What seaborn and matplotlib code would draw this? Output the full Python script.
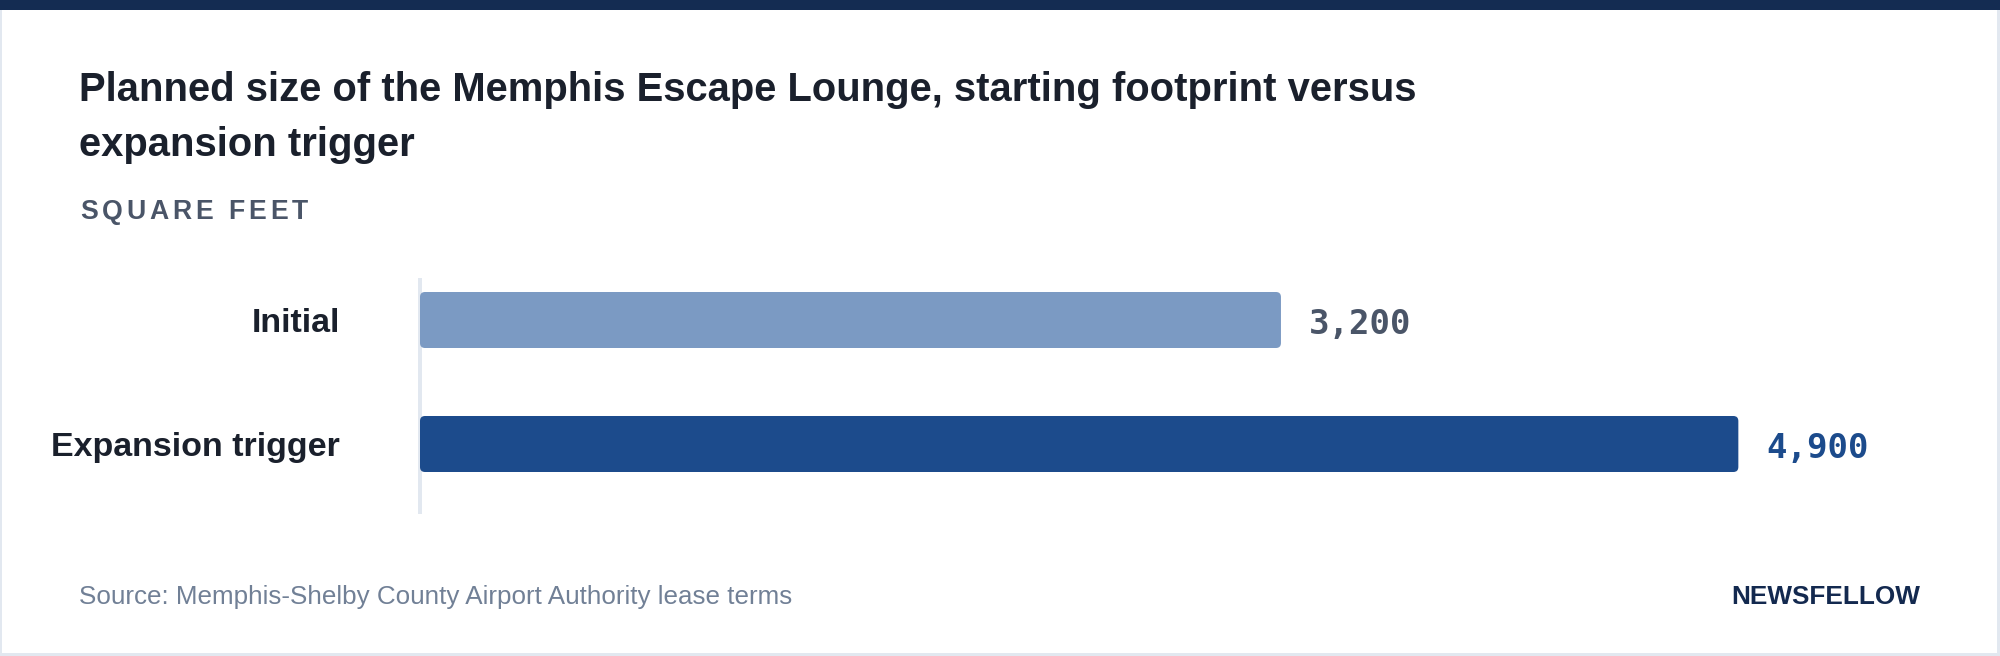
import numpy as np
import pandas as pd
import seaborn as sns
import matplotlib
matplotlib.use("Agg")
import matplotlib.pyplot as plt
from matplotlib.patches import FancyBboxPatch, Rectangle
from matplotlib.font_manager import findfont, FontProperties
from matplotlib.ft2font import FT2Font

# ---------------- data ----------------
categories = ["Initial", "Expansion trigger"]
values = [3200, 4900]
bar_colors = ["#7b9ac3", "#1c4b8c"]
value_label_colors = ["#4a5568", "#1c4b8c"]
title_lines = ["Planned size of the Memphis Escape Lounge, starting footprint versus",
               "expansion trigger"]
unit_label = "SQUARE FEET"
source_text = "Source: Memphis-Shelby County Airport Authority lease terms"
brand_text = "NEWSFELLOW"

# ---------------- setup ----------------
W, H, DPI = 2000, 656, 100
sns.set_theme(style="white")
plt.rcParams["font.family"] = ["Liberation Sans", "DejaVu Sans"]

fig = plt.figure(figsize=(W / DPI, H / DPI), dpi=DPI, facecolor="white")


def fx(px):
    return px / W


def fy(px_from_top):
    return 1 - px_from_top / H


PT = 72 / DPI  # points per pixel

# ---------------- axes ----------------
ax_left, ax_right, ax_top, ax_bottom = 420, 1920, 280, 512
ax = fig.add_axes([fx(ax_left), fy(ax_bottom), (ax_right - ax_left) / W, (ax_bottom - ax_top) / H])
ax.set_facecolor("white")

px_per_unit = 0.26905
step_px = 124
bar_h_px = 56
first_center_px = 320

df = pd.DataFrame({"category": categories, "value": values})
sns.barplot(data=df, x="value", y="category", hue="category", palette=bar_colors,
            orient="h", width=bar_h_px / step_px, saturation=1, legend=False, ax=ax)

ax.set_xlim(0, (ax_right - ax_left) / px_per_unit)
ax.set_ylim((ax_bottom - first_center_px) / step_px, (ax_top - first_center_px) / step_px)

# rounded bars
r_px = 5
r_units = r_px / px_per_unit
aspect = (1 / step_px) / (1 / px_per_unit)
for p in list(ax.patches):
    x0, y0 = p.get_x(), p.get_y()
    w, h = p.get_width(), p.get_height()
    fc = p.get_facecolor()
    p.remove()
    fb = FancyBboxPatch((x0, y0), w, h,
                        boxstyle=f"round,pad=0,rounding_size={r_units}",
                        mutation_aspect=aspect, facecolor=fc, edgecolor="none",
                        linewidth=0, zorder=3)
    ax.add_patch(fb)

for s in ["top", "right", "bottom"]:
    ax.spines[s].set_visible(False)
ax.spines["left"].set_color("#e2e8f0")
ax.spines["left"].set_linewidth(4 * PT)
ax.spines["left"].set_zorder(1)

ax.set_xticks([])
ax.set_xlabel("")
ax.set_ylabel("")
ax.tick_params(axis="y", length=0, pad=80 * PT)
for lbl in ax.get_yticklabels():
    lbl.set_fontweight("bold")
    lbl.set_fontsize(24.5)
    lbl.set_color("#1a202c")
    lbl.set_fontfamily(["Liberation Sans", "DejaVu Sans"])

# value labels
for i, (v, c) in enumerate(zip(values, value_label_colors)):
    ax.annotate(f"{v:,}", xy=(v, i), xytext=(28 * PT, -14 * PT), textcoords="offset points",
                ha="left", va="baseline", fontfamily="DejaVu Sans Mono", fontweight="bold",
                fontsize=24.5, color=c, zorder=4)

# ---------------- text ----------------
fig.text(fx(79), fy(101), title_lines[0], fontsize=28.8, fontweight="bold", color="#1a202c", va="baseline")
fig.text(fx(79), fy(156), title_lines[1], fontsize=28.8, fontweight="bold", color="#1a202c", va="baseline")

# letter-spaced unit label
size_pt = 19.2
fp = FontProperties(family="Liberation Sans", weight="bold")
ft = FT2Font(findfont(fp))
ft.set_size(size_pt, DPI)
advs = [ft.load_char(ord(ch)).linearHoriAdvance / 65536 for ch in unit_label]
target_w = 228
spacing = (target_w - sum(advs)) / (len(unit_label) - 1)
xpos = 80
for ch, a in zip(unit_label, advs):
    fig.text(fx(xpos), fy(219), ch, fontsize=size_pt, fontweight="bold", color="#4a5568", va="baseline")
    xpos += a + spacing

fig.text(fx(79), fy(604), source_text, fontsize=18.7, color="#718096", va="baseline")
fig.text(fx(1920), fy(604), brand_text, fontsize=18.8, fontweight="bold", color="#13294f",
         va="baseline", ha="right")

# ---------------- frame ----------------
fig.add_artist(Rectangle((0, fy(10)), 1, 10 / H, transform=fig.transFigure,
                         facecolor="#142c52", edgecolor="none"))
border = "#e2e8f0"
fig.add_artist(Rectangle((0, 0), 2 / W, fy(10), transform=fig.transFigure, facecolor=border, edgecolor="none"))
fig.add_artist(Rectangle((1 - 3 / W, 0), 3 / W, fy(10), transform=fig.transFigure, facecolor=border, edgecolor="none"))
fig.add_artist(Rectangle((0, 0), 1, 3 / H, transform=fig.transFigure, facecolor=border, edgecolor="none"))

fig.savefig("out.png", dpi=DPI, facecolor="white")
